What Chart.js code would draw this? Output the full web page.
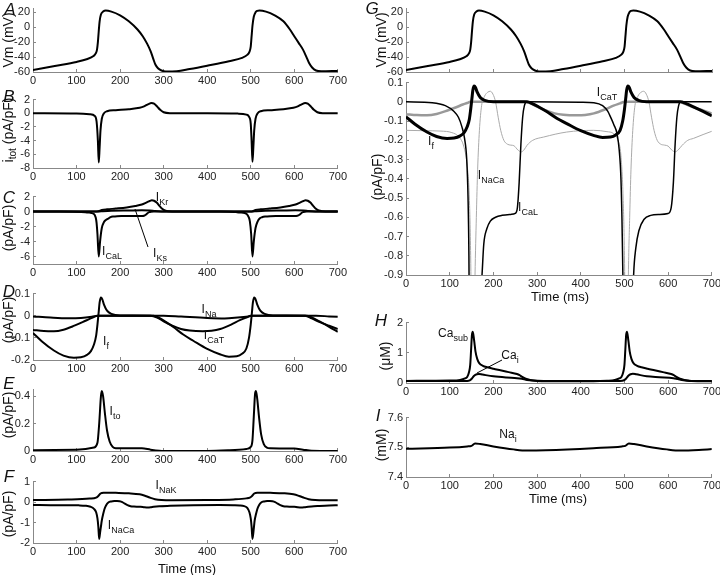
<!DOCTYPE html>
<html>
<head>
<meta charset="utf-8">
<script src="https://cdn.jsdelivr.net/npm/chart.js@4.4.0/dist/chart.umd.min.js"></script>
<style>
body{margin:0;width:720px;height:575px;overflow:hidden;background:#fff;position:relative;font-family:"Liberation Sans",Arial,sans-serif;color:#111;}
canvas{position:absolute;}
.lbl{position:absolute;font-size:12px;white-space:nowrap;line-height:1;transform:translate(-50%,-50%);}
.lbl sub{font-size:9px;vertical-align:-4px;line-height:0;}
.ttl{position:absolute;font-size:14px;white-space:nowrap;line-height:1;transform:translate(-50%,-50%) rotate(-90deg);}
.ttl sub{font-size:10px;vertical-align:-3px;line-height:0;}
.let{position:absolute;font-size:17px;font-style:italic;line-height:1;transform:translate(-50%,-50%);}
.time{position:absolute;font-size:13px;white-space:nowrap;line-height:1;transform:translate(-50%,-50%);}
svg{position:absolute;left:0;top:0;}
</style>
</head>
<body>
<script>
'use strict';
// ---- data (time in ms) ----
let timeTicks=[0,100,200,300,400,500,600,700];

let vmTime=[0,50,100,125,138,144,147,149,151,153,156,161,167,180,200,220,240,252,262,270,276,281,287,295,305,330,360,400,450,480,492,497,500,502,504,507,511,515,520,535,555,575,590,600,610,620,628,634,641,650,662,700];
let vm=[-57.5,-52,-46.5,-42.5,-39,-35,-30,-20,-5,8,17,21,22.5,21,16,8,-3,-12,-22,-32,-42,-50,-55,-58,-59.3,-59,-56,-51.5,-45.5,-41,-37,-33,-26,-12,2,14,20,22,22.5,21,16,8,-3,-12,-21,-30,-40,-48,-54,-58,-59,-58.5];
let vmTicks=[-60,-40,-20,0,20];

let itotTime=[0,100,130,142,146,149,151,153,155,158,163,170,190,220,245,255,265,272,278,285,292,300,315,400,470,490,496,500,502,504,506,508,511,516,523,545,575,598,608,618,625,631,638,645,653,665,700];
let itot=[0,-0.05,-0.15,-0.4,-1.2,-4,-7.2,-5,-2.5,-0.8,0,0.3,0.45,0.6,0.8,1.0,1.35,1.5,1.4,1.0,0.5,0.15,0.02,0,-0.05,-0.2,-0.5,-1.5,-4,-7.1,-5,-2.5,-0.8,0,0.3,0.45,0.6,0.8,1.0,1.35,1.5,1.4,1.0,0.5,0.15,0.02,0];
let itotTicks=[-8,-6,-4,-2,0,2];

let krTime=[0,140,150,158,170,190,215,235,250,260,268,273,278,284,290,296,303,312,330,500,504,511,523,543,568,588,603,613,621,626,631,637,643,649,656,665,680,700];
let ikr=[0.02,0.02,0.05,0.2,0.3,0.4,0.55,0.75,0.95,1.2,1.42,1.5,1.45,1.2,0.8,0.4,0.15,0.05,0.02,0.02,0.05,0.2,0.3,0.4,0.55,0.75,0.95,1.2,1.42,1.5,1.45,1.2,0.8,0.4,0.15,0.05,0.02,0.02];

let ksTime=[0,150,160,180,220,250,268,280,295,320,503,513,533,573,603,621,633,648,670,700];
let iks=[0,0,0.05,0.12,0.15,0.17,0.15,0.08,0.02,0,0,0.05,0.12,0.15,0.17,0.15,0.08,0.02,0,0];

let calTime=[0,60,90,110,120,128,134,139,142,144,146,148,151,154,158,163,168,174,178,185,193,205,220,240,250,255,259,263,267,271,277,400,430,450,462,468,476,483,488,492,495,498,501,504,507,511,516,521,526,533,545,560,580,600,607,612,616,620,624,629,700];
let ical=[0,-0.005,-0.02,-0.05,-0.08,-0.13,-0.19,-0.3,-0.5,-0.8,-1.5,-3,-6,-4,-2.2,-1.4,-1.1,-0.9,-0.74,-0.66,-0.62,-0.6,-0.59,-0.585,-0.58,-0.55,-0.42,-0.22,-0.08,-0.02,0,-0.002,-0.005,-0.02,-0.05,-0.078,-0.12,-0.165,-0.25,-0.4,-0.7,-1.3,-3,-6,-4,-2.2,-1.3,-0.9,-0.76,-0.67,-0.61,-0.59,-0.585,-0.58,-0.55,-0.42,-0.22,-0.08,-0.02,0,0];
let cTicks=[-6,-4,-2,0,2];

let naTime=[0,40,80,110,135,150,300,340,400,440,470,495,505,650,680,700];
let ina=[-0.003,-0.008,-0.011,-0.01,-0.005,0,0,-0.004,-0.01,-0.012,-0.008,-0.003,0,0,-0.003,-0.005];

let catTime=[0,25,48,70,95,115,130,140,147,270,285,300,320,340,360,390,410,430,455,475,490,500,625,640,660,680,700];
let icat=[-0.064,-0.069,-0.07,-0.063,-0.045,-0.028,-0.014,-0.006,0,0,-0.008,-0.025,-0.045,-0.06,-0.067,-0.07,-0.068,-0.06,-0.04,-0.02,-0.008,0,0,-0.012,-0.03,-0.045,-0.06];

let ifTime=[0,20,48,70,94,110,124,133,140,145,148,151,153,156,159,163,170,180,200,277,290,305,323,345,368,400,429,450,468,480,490,496,500,503,505,508,511,515,522,532,551,628,640,658,680,700];
let iF=[-0.078,-0.115,-0.157,-0.18,-0.19,-0.188,-0.177,-0.16,-0.13,-0.09,-0.04,0.02,0.06,0.082,0.075,0.05,0.023,0.008,0.001,0,-0.01,-0.028,-0.052,-0.085,-0.113,-0.15,-0.174,-0.185,-0.183,-0.172,-0.148,-0.1,-0.04,0.02,0.06,0.082,0.075,0.05,0.023,0.008,0.001,0,-0.008,-0.026,-0.05,-0.073];
let dTicks=[-0.2,-0.1,0,0.1];

let toTime=[0,100,140,148,152,156,158,161,165,170,176,183,190,250,270,290,300,400,450,490,500,504,507,510,512,515,519,524,530,537,545,600,620,640,700];
let ito=[0.005,0.01,0.025,0.06,0.2,0.4,0.44,0.4,0.28,0.15,0.07,0.03,0.02,0.02,0.01,0.002,0,0,0.005,0.015,0.03,0.08,0.25,0.42,0.44,0.38,0.25,0.12,0.05,0.025,0.02,0.018,0.01,0.002,0];
let eTicks=[0,0.2,0.4];

let nakTime=[0,80,130,145,150,155,162,190,220,245,258,268,280,295,320,400,460,490,498,503,508,515,545,575,598,611,621,633,648,670,700];
let inak=[0.1,0.12,0.17,0.22,0.3,0.42,0.46,0.45,0.43,0.38,0.3,0.22,0.14,0.1,0.09,0.1,0.13,0.18,0.22,0.3,0.42,0.46,0.45,0.43,0.38,0.3,0.22,0.14,0.1,0.09,0.09];

let ncxTime=[0,40,80,105,120,132,140,145,148,150,152,154,156,158,161,164,168,173,180,187,193,199,205,211,217,224,232,240,247,256,264,270,277,290,315,368,429,460,475,485,492,497,500,502,504,507,509,512,515,519,524,531,538,544,550,556,562,568,575,583,592,600,608,616,623,632,645,658,680,700];
let incx=[-0.148,-0.15,-0.152,-0.16,-0.18,-0.23,-0.33,-0.5,-0.8,-1.2,-1.8,-1.5,-1.2,-0.9,-0.6,-0.35,-0.15,-0.02,0.03,0.05,0.055,0.04,0,-0.08,-0.15,-0.2,-0.22,-0.225,-0.228,-0.25,-0.26,-0.25,-0.226,-0.2,-0.183,-0.157,-0.148,-0.155,-0.165,-0.2,-0.28,-0.5,-0.8,-1.2,-1.8,-1.3,-0.9,-0.6,-0.35,-0.15,-0.02,0.03,0.05,0.055,0.04,0,-0.08,-0.15,-0.2,-0.22,-0.225,-0.23,-0.25,-0.26,-0.25,-0.226,-0.2,-0.19,-0.17,-0.153];
let fTicks=[-2,-1,0,1];

let gTicks=[-0.9,-0.8,-0.7,-0.6,-0.5,-0.4,-0.3,-0.2,-0.1,0,0.1];

let csTime=[0,100,124,135,140,144,147,149,151,153,156,159,163,168,176,186,200,216,235,254,260,266,274,284,300,323,429,460,478,488,493,497,500,502,504,506,509,512,516,521,529,539,553,569,588,607,613,619,627,637,653,700];
let caSub=[0.07,0.08,0.1,0.15,0.2,0.35,0.6,1.1,1.6,1.7,1.4,1.05,0.8,0.65,0.57,0.52,0.47,0.42,0.36,0.3,0.26,0.2,0.14,0.1,0.07,0.06,0.06,0.075,0.1,0.15,0.2,0.35,0.6,1.1,1.6,1.7,1.4,1.05,0.8,0.65,0.57,0.52,0.47,0.42,0.36,0.3,0.26,0.2,0.14,0.1,0.07,0.06];

let ciTime=[0,140,146,151,156,162,167,175,200,230,254,265,277,290,315,490,499,504,509,514,519,527,551,580,612,622,635,650,700];
let caI=[0.07,0.07,0.09,0.15,0.24,0.29,0.3,0.28,0.22,0.18,0.16,0.14,0.1,0.08,0.07,0.07,0.09,0.15,0.24,0.29,0.31,0.29,0.22,0.19,0.16,0.13,0.09,0.07,0.07];
let hTicks=[0,1,2];

let naiTime=[0,100,140,150,158,170,200,246,277,320,429,494,502,510,522,551,597,628,670,700];
let nai=[7.495,7.499,7.503,7.505,7.513,7.511,7.503,7.493,7.489,7.49,7.497,7.503,7.505,7.513,7.511,7.503,7.493,7.489,7.491,7.494];
let iTicks=[7.4,7.5,7.6];

Chart.defaults.font.family='"Liberation Sans", Arial, sans-serif';
Chart.defaults.font.size=11;
Chart.defaults.color='#222';

function toPoints(times,vals){
  return times.map((t,i)=>({x:t,y:vals[i]}));
}

function line(times,vals,color,width){
  return {data:toPoints(times,vals),borderColor:color||'#000',borderWidth:width||2,pointRadius:0,
    cubicInterpolationMode:'monotone',fill:false};
}

// box = plot area in page pixels
function makePanel(box,yMin,yMax,yTicks,datasets,showX){
  let YW=34,PT=8,PR=14,XH=18;
  let w=box.right-box.left+YW+PR;
  let h=box.bottom-box.top+PT+XH;
  let canvas=document.createElement('canvas');
  canvas.width=w;canvas.height=h;
  canvas.style.left=(box.left-YW)+'px';
  canvas.style.top=(box.top-PT)+'px';
  document.body.appendChild(canvas);
  new Chart(canvas,{
    type:'line',
    data:{datasets:datasets},
    options:{
      responsive:false,animation:false,
      layout:{padding:{top:PT,right:PR,left:0,bottom:0}},
      plugins:{legend:{display:false},tooltip:{enabled:false}},
      scales:{
        x:{type:'linear',min:0,max:700,
          afterBuildTicks:s=>{s.ticks=timeTicks.map(v=>({value:v}));},
          afterFit:s=>{s.height=XH;},
          grid:{drawOnChartArea:false,tickLength:-3,color:'#888'},
          border:{color:'#888'},
          ticks:{display:showX!==false,padding:5,maxRotation:0,autoSkip:false,callback:v=>String(v)}},
        y:{type:'linear',min:yMin,max:yMax,
          afterBuildTicks:s=>{s.ticks=yTicks.map(v=>({value:v}));},
          afterFit:s=>{s.width=YW;},
          grid:{drawOnChartArea:false,tickLength:-3,color:'#888'},
          border:{color:'#888'},
          ticks:{padding:6,autoSkip:false,callback:v=>String(v)}}
      }
    }
  });
}

// left column
makePanel({left:33,top:4,right:338,bottom:72},-60,25,vmTicks,[line(vmTime,vm)]);
makePanel({left:33,top:95,right:338,bottom:168},-8,2,itotTicks,[line(itotTime,itot)]);
makePanel({left:33,top:192,right:338,bottom:264},-7,2,cTicks,
  [line(calTime,ical),line(krTime,ikr),line(ksTime,iks)]);
makePanel({left:33,top:289,right:338,bottom:360},-0.2,0.1,dTicks,
  [line(ifTime,iF),line(catTime,icat),line(naTime,ina)]);
makePanel({left:33,top:385,right:338,bottom:451},0,0.45,eTicks,[line(toTime,ito)]);
makePanel({left:33,top:477,right:338,bottom:543},-2,1,fTicks,
  [line(nakTime,inak),line(ncxTime,incx)]);

// right column
makePanel({left:406,top:4,right:712,bottom:72},-60,25,vmTicks,[line(vmTime,vm)],false);
makePanel({left:406,top:78,right:712,bottom:275},-0.9,0.1,gTicks,
  [line(ifTime,iF,'#000',3),line(calTime,ical,'#000',1.5),line(catTime,icat,'#999',2.5),line(ncxTime,incx,'#aaa',1)]);
makePanel({left:406,top:318,right:712,bottom:383},0,2,hTicks,
  [line(csTime,caSub),line(ciTime,caI)]);
makePanel({left:406,top:413,right:712,bottom:477},7.4,7.6,iTicks,[line(naiTime,nai)]);

function put(cls,html,x,y){
  let d=document.createElement('div');
  d.className=cls;d.innerHTML=html;
  d.style.left=x+'px';d.style.top=y+'px';
  document.body.appendChild(d);
}

// panel letters
put('let','A',10,9);put('let','B',9,96);put('let','C',9,197);put('let','D',9,291);
put('let','E',9,383);put('let','F',9,476);
put('let','G',372,8);put('let','H',381,320);put('let','I',378,415);

// axis titles
put('ttl','Vm (mV)',8,40);
put('ttl','i<sub>tot</sub> (pA/pF)',8,130);
put('ttl','(pA/pF)',8,228);
put('ttl','(pA/pF)',8,320);
put('ttl','(pA/pF)',8,415);
put('ttl','(pA/pF)',8,514);
put('ttl','Vm (mV)',381,40);
put('ttl','(pA/pF)',377,177);
put('ttl','(\u03bcM)',385,356);
put('ttl','(mM)',381,445);
put('time','Time (ms)',187,568);
put('time','Time (ms)',560,296);
put('time','Time (ms)',558,498);

// curve labels
put('lbl','I<sub>Kr</sub>',162,197);
put('lbl','I<sub>Ks</sub>',160,253);
put('lbl','I<sub>CaL</sub>',112,251);
put('lbl','I<sub>Na</sub>',209,309);
put('lbl','I<sub>f</sub>',106,341);
put('lbl','I<sub>CaT</sub>',214,335);
put('lbl','I<sub>to</sub>',115,411);
put('lbl','I<sub>NaK</sub>',166,485);
put('lbl','I<sub>NaCa</sub>',121,525);
put('lbl','I<sub>CaT</sub>',607,92);
put('lbl','I<sub>f</sub>',431,141);
put('lbl','I<sub>NaCa</sub>',491,175);
put('lbl','I<sub>CaL</sub>',528,207);
put('lbl','Ca<sub>sub</sub>',453,333);
put('lbl','Ca<sub>i</sub>',510,355);
put('lbl','Na<sub>i</sub>',508,434);

// leader lines
document.body.insertAdjacentHTML('beforeend',
  '<svg width="720" height="575"><line x1="148" y1="247" x2="135" y2="209" stroke="#000" stroke-width="1"/>'+
  '<line x1="502" y1="360" x2="477" y2="373" stroke="#000" stroke-width="1"/></svg>');
</script>
</body>
</html>
